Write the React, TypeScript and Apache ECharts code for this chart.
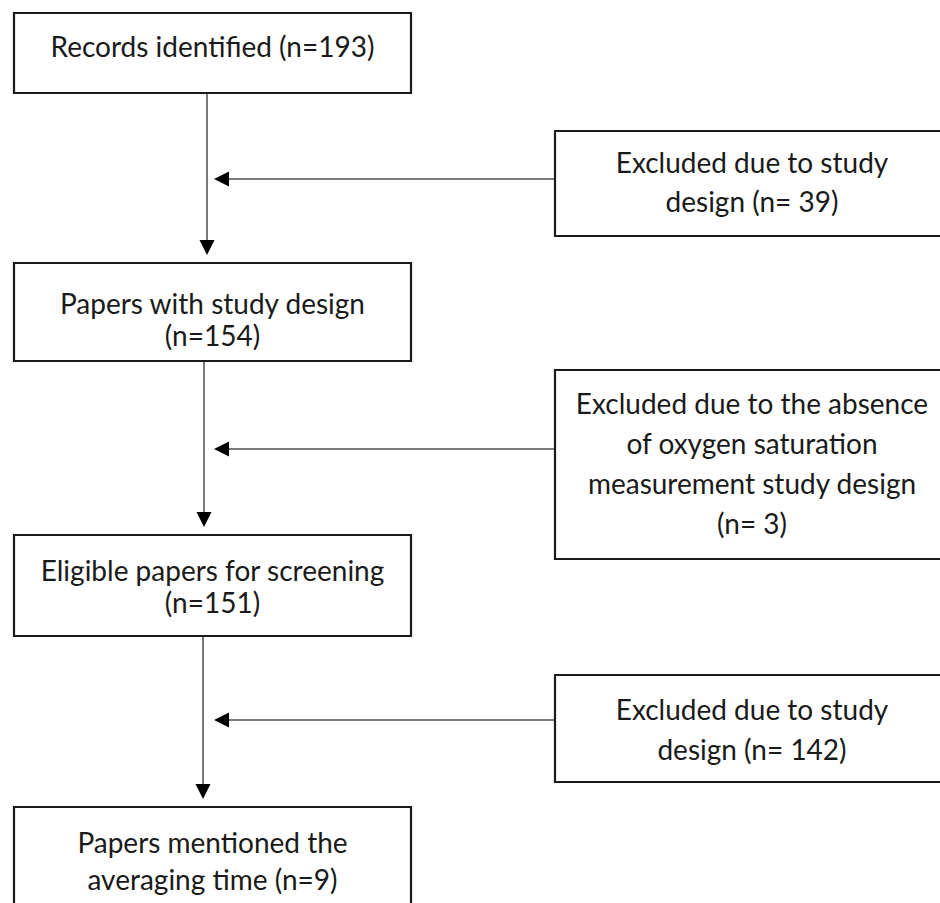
import React, { useEffect, useRef } from "react";
import * as echarts from "echarts";

// ---- content ----
const mainSteps: string[] = [
  "Records identified (n=193)",
  "Papers with study design\n(n=154)",
  "Eligible papers for screening\n(n=151)",
  "Papers mentioned the\naveraging time (n=9)",
];
const exclusions: string[] = [
  "Excluded due to study\ndesign (n= 39)",
  "Excluded due to the absence\nof oxygen saturation\nmeasurement study design\n(n= 3)",
  "Excluded due to study\ndesign (n= 142)",
];

// ---- layout (pixels) ----
const MAIN_X = 14;
const MAIN_W = 397;
const mainBoxes = [
  { y: 13, h: 80, textY: 46, lh: 32 },
  { y: 263, h: 98, textY: 319, lh: 32 },
  { y: 535, h: 101, textY: 586, lh: 32 },
  { y: 807, h: 120, textY: 860, lh: 37 },
];
const EX_X = 555;
const EX_W = 396;
const exBoxes = [
  { y: 131, h: 105, textY: 181, lh: 39, arrowY: 179 },
  { y: 370, h: 189, textY: 463, lh: 40, arrowY: 449 },
  { y: 675, h: 107, textY: 729, lh: 40, arrowY: 720 },
];
const vLineX = [207, 204, 203];
const ARROW_TIP_X = 214;
const HEAD = 15;
const FONT = "28px Lato, 'Open Sans', sans-serif";
const TEXT_COLOR = "#1a1a1a";
const BORDER = "#1a1a1a";
const LINE = "#7a7a7a";

export default function App() {
  const ref = useRef<HTMLDivElement>(null);
  useEffect(() => {
    if (!ref.current) return;
    const chart = echarts.init(ref.current, null, { renderer: "svg" });
    const els: any[] = [];

    mainBoxes.forEach((b, i) => {
      els.push({
        type: "rect",
        shape: { x: MAIN_X, y: b.y, width: MAIN_W, height: b.h },
        style: { fill: "#fff", stroke: BORDER, lineWidth: 2.2 },
        z: 2,
      });
      els.push({
        type: "text",
        x: MAIN_X + MAIN_W / 2,
        y: b.textY,
        style: {
          text: mainSteps[i],
          font: FONT,
          fill: TEXT_COLOR,
          textAlign: "center",
          textVerticalAlign: "middle",
          align: "center",
          verticalAlign: "middle",
          lineHeight: b.lh,
        },
        z: 3,
      });
    });

    exBoxes.forEach((b, i) => {
      els.push({
        type: "rect",
        shape: { x: EX_X, y: b.y, width: EX_W, height: b.h },
        style: { fill: "#fff", stroke: BORDER, lineWidth: 2.2 },
        z: 2,
      });
      els.push({
        type: "text",
        x: EX_X + EX_W / 2 - 1,
        y: b.textY,
        style: {
          text: exclusions[i],
          font: FONT,
          fill: TEXT_COLOR,
          textAlign: "center",
          textVerticalAlign: "middle",
          align: "center",
          verticalAlign: "middle",
          lineHeight: b.lh,
        },
        z: 3,
      });
      // horizontal arrow
      els.push({
        type: "line",
        shape: { x1: EX_X, y1: b.arrowY, x2: ARROW_TIP_X + HEAD - 2, y2: b.arrowY },
        style: { stroke: LINE, lineWidth: 2 },
        z: 1,
      });
      els.push({
        type: "polygon",
        shape: {
          points: [
            [ARROW_TIP_X, b.arrowY],
            [ARROW_TIP_X + HEAD, b.arrowY - 7.5],
            [ARROW_TIP_X + HEAD, b.arrowY + 7.5],
          ],
        },
        style: { fill: "#000" },
        z: 1,
      });
    });

    // vertical arrows between main boxes
    for (let i = 0; i < mainBoxes.length - 1; i++) {
      const x = vLineX[i];
      const y1 = mainBoxes[i].y + mainBoxes[i].h;
      const tip = mainBoxes[i + 1].y - 8;
      els.push({
        type: "line",
        shape: { x1: x, y1, x2: x, y2: tip - HEAD + 2 },
        style: { stroke: LINE, lineWidth: 2 },
        z: 1,
      });
      els.push({
        type: "polygon",
        shape: {
          points: [
            [x, tip],
            [x - 7.5, tip - HEAD],
            [x + 7.5, tip - HEAD],
          ],
        },
        style: { fill: "#000" },
        z: 1,
      });
    }

    chart.setOption({
      animation: false,
      backgroundColor: "#fff",
      graphic: { elements: els },
    });
    return () => chart.dispose();
  }, []);
  return (
    <div
      ref={ref}
      style={{ position: "fixed", left: 0, top: 0, width: 940, height: 903 }}
    />
  );
}
